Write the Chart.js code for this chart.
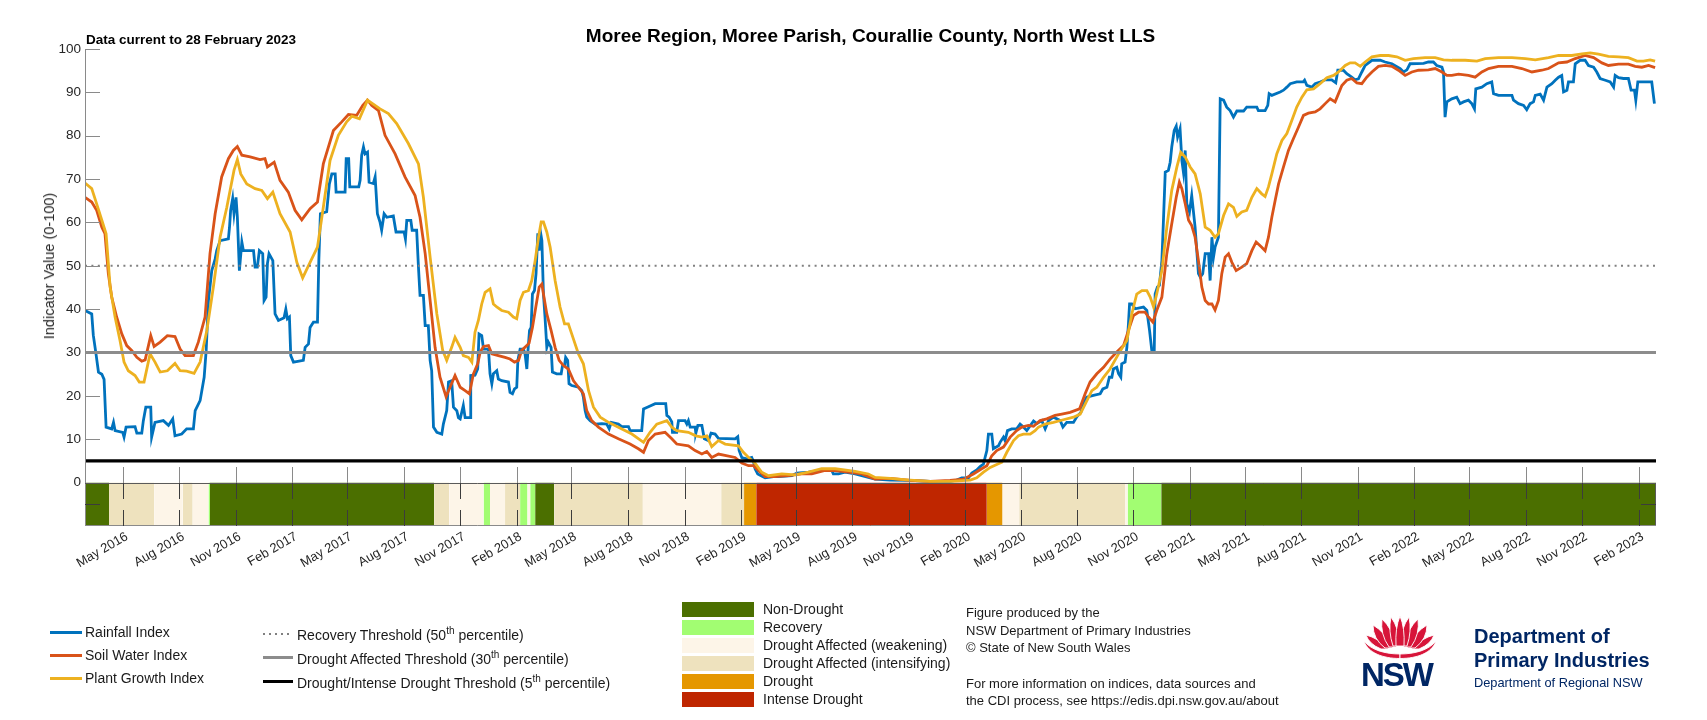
<!DOCTYPE html>
<html>
<head>
<meta charset="utf-8">
<script src="https://cdn.jsdelivr.net/npm/chart.js@4.4.1/dist/chart.umd.min.js"></script>
<style>
  html, body { margin: 0; padding: 0; background: #fff; }
  #wrap { position: relative; width: 1707px; height: 720px; overflow: hidden; background: #fff;
          font-family: 'Liberation Sans', Arial, Helvetica, sans-serif; color: #1a1a1a; }
  #c { position: absolute; left: 0; top: 0; }
  .t { position: absolute; white-space: nowrap; }
  .sw { position: absolute; }
  sup { font-size: 10px; line-height: 0; vertical-align: 0; position: relative; top: -6px; }
</style>
</head>
<body>
<div id="wrap">
  <canvas id="c" width="1707" height="720"></canvas>

  <div class="t" style="left:0;width:1741px;text-align:center;top:25px;font-size:19px;font-weight:bold;color:#000;">Moree Region, Moree Parish, Courallie County, North West LLS</div>
  <div class="t" style="left:86px;top:32px;font-size:13.5px;font-weight:bold;color:#000;">Data current to 28 February 2023</div>
  <div class="t" style="left:49px;top:266px;font-size:14.5px;color:#262626;transform:translate(-50%,-50%) rotate(-90deg);">Indicator Value (0-100)</div>

  <!-- legend group 1 -->
  <div class="sw" style="left:50px;top:631px;width:32px;height:3px;background:#0072BD;"></div>
  <div class="t" style="left:85px;top:624px;font-size:14px;">Rainfall Index</div>
  <div class="sw" style="left:50px;top:654px;width:32px;height:3px;background:#D95319;"></div>
  <div class="t" style="left:85px;top:647px;font-size:14px;">Soil Water Index</div>
  <div class="sw" style="left:50px;top:677px;width:32px;height:3px;background:#EDB120;"></div>
  <div class="t" style="left:85px;top:670px;font-size:14px;">Plant Growth Index</div>

  <!-- legend group 2 -->
  <div class="sw" style="left:263px;top:633px;width:30px;height:2px;background:repeating-linear-gradient(90deg,#808080 0 2px,transparent 2px 6px);"></div>
  <div class="t" style="left:297px;top:627px;font-size:14px;">Recovery Threshold (50<sup>th</sup> percentile)</div>
  <div class="sw" style="left:263px;top:656px;width:30px;height:3px;background:#8c8c8c;"></div>
  <div class="t" style="left:297px;top:651px;font-size:14px;">Drought Affected Threshold (30<sup>th</sup> percentile)</div>
  <div class="sw" style="left:263px;top:680px;width:30px;height:3px;background:#000;"></div>
  <div class="t" style="left:297px;top:675px;font-size:14px;">Drought/Intense Drought Threshold (5<sup>th</sup> percentile)</div>

  <!-- legend group 3 (status) -->
  <div id="statusLegend"></div>

  <!-- credits -->
  <div class="t" style="left:966px;top:605px;font-size:13px;">Figure produced by the</div>
  <div class="t" style="left:966px;top:623px;font-size:13px;">NSW Department of Primary Industries</div>
  <div class="t" style="left:966px;top:640px;font-size:13px;">© State of New South Wales</div>
  <div class="t" style="left:966px;top:676px;font-size:13px;">For more information on indices, data sources and</div>
  <div class="t" style="left:966px;top:693px;font-size:13px;">the CDI process, see https://edis.dpi.nsw.gov.au/about</div>

  <!-- NSW logo -->
  <svg style="position:absolute;left:1363px;top:616px;" width="74" height="46" viewBox="0 0 74 46">
    <g fill="#D7153A" stroke="#ffffff" stroke-width="0.9">
      <path d="M3 19 Q15 22 26 33 L18 33 Q6 28 3 19 Z"/>
      <path d="M71 19 Q59 22 48 33 L56 33 Q68 28 71 19 Z"/>
      <path d="M10 9 Q22 16 30 32 L22 32 Q10 23 10 9 Z"/>
      <path d="M64 9 Q52 16 44 32 L52 32 Q64 23 64 9 Z"/>
      <path d="M19 3 Q29 12 34 31 L26 31 Q17 18 19 3 Z"/>
      <path d="M55 3 Q45 12 40 31 L48 31 Q57 18 55 3 Z"/>
      <path d="M28 1 Q36 12 37 30 L30 30 Q25 15 28 1 Z"/>
      <path d="M46 1 Q38 12 37 30 L44 30 Q49 15 46 1 Z"/>
      <path d="M37 0 Q42 12 41 30 L33 30 Q32 12 37 0 Z"/>
      <path d="M1 25 C8 34 22 38 37 38 L37 42.5 C20 42.5 5 37 1 25 Z"/>
      <path d="M73 25 C66 34 52 38 37 38 L37 42.5 C54 42.5 69 37 73 25 Z"/>
    </g>
  </svg>
  <div class="t" style="left:1361px;top:659px;font-size:33px;font-weight:bold;color:#002664;letter-spacing:-2px;line-height:32px;">NSW</div>
  <div class="t" style="left:1474px;top:625px;font-size:20px;font-weight:bold;color:#002664;">Department of</div>
  <div class="t" style="left:1474px;top:649px;font-size:20px;font-weight:bold;color:#002664;">Primary Industries</div>
  <div class="t" style="left:1474px;top:675px;font-size:12.8px;color:#002664;">Department of Regional NSW</div>
</div>

<script>
// ---------------- DATA ----------------
// x values are decimal years (e.g. 2016.5 = start of July 2016)
const xMin = 2016.161;   // 29 Feb 2016
const xMax = 2023.162;   // 1 Mar 2023

const tickLabels = ['May 2016','Aug 2016','Nov 2016','Feb 2017','May 2017','Aug 2017','Nov 2017',
  'Feb 2018','May 2018','Aug 2018','Nov 2018','Feb 2019','May 2019','Aug 2019','Nov 2019',
  'Feb 2020','May 2020','Aug 2020','Nov 2020','Feb 2021','May 2021','Aug 2021','Nov 2021',
  'Feb 2022','May 2022','Aug 2022','Nov 2022','Feb 2023'];

const yTickValues = [0, 10, 20, 30, 40, 50, 60, 70, 80, 90, 100];

const thresholdValues = [50, 30, 5];

const rainfallIndex = [
[2016.161,39.7],[2016.191,38.9],[2016.198,34.0],[2016.210,29.7],[2016.221,25.5],[2016.236,25.0],[2016.246,23.8],[2016.255,12.8],[2016.280,12.4],[2016.288,13.9],[2016.295,12.0],[2016.329,11.6],[2016.335,10.5],[2016.344,12.8],[2016.384,12.9],[2016.392,11.4],[2016.414,11.4],[2016.421,14.3],[2016.432,17.4],[2016.454,17.4],[2016.458,10.5],[2016.473,13.9],[2016.510,14.3],[2016.533,13.2],[2016.552,14.7],[2016.562,10.8],[2016.592,11.2],[2016.614,12.4],[2016.644,12.4],[2016.652,16.6],[2016.674,18.9],[2016.692,24.3],[2016.701,30.5],[2016.711,42.0],[2016.726,48.9],[2016.741,51.6],[2016.748,53.5],[2016.763,55.8],[2016.800,56.2],[2016.805,58.9],[2016.810,62.8],[2016.819,65.5],[2016.825,62.0],[2016.834,65.8],[2016.840,61.2],[2016.849,48.9],[2016.860,55.5],[2016.867,53.5],[2016.912,53.5],[2016.919,49.7],[2016.929,49.7],[2016.938,53.5],[2016.953,52.8],[2016.959,42.0],[2016.968,42.8],[2016.974,50.5],[2016.981,52.8],[2016.998,51.2],[2017.008,38.9],[2017.023,37.4],[2017.048,38.0],[2017.056,40.0],[2017.063,37.8],[2017.072,38.2],[2017.078,29.3],[2017.090,27.8],[2017.134,28.2],[2017.142,31.2],[2017.157,32.0],[2017.164,35.8],[2017.179,37.0],[2017.197,37.0],[2017.203,51.2],[2017.210,62.0],[2017.238,62.5],[2017.250,68.9],[2017.261,71.2],[2017.276,71.2],[2017.280,67.0],[2017.320,67.0],[2017.325,74.7],[2017.336,74.7],[2017.341,68.2],[2017.381,68.2],[2017.387,69.7],[2017.394,75.5],[2017.402,77.4],[2017.409,75.8],[2017.420,76.2],[2017.427,69.3],[2017.446,69.0],[2017.454,70.5],[2017.464,62.0],[2017.476,60.0],[2017.483,58.2],[2017.494,62.0],[2017.506,61.2],[2017.535,61.5],[2017.547,57.8],[2017.583,57.8],[2017.589,56.2],[2017.595,60.5],[2017.613,60.5],[2017.619,58.2],[2017.639,58.2],[2017.647,49.7],[2017.654,43.2],[2017.669,43.2],[2017.677,36.2],[2017.691,36.2],[2017.699,28.2],[2017.706,25.8],[2017.714,12.8],[2017.729,11.6],[2017.751,11.2],[2017.758,13.5],[2017.773,16.6],[2017.781,23.2],[2017.795,23.5],[2017.803,17.4],[2017.818,16.6],[2017.825,15.0],[2017.833,14.7],[2017.847,17.8],[2017.855,15.0],[2017.877,15.0],[2017.880,24.7],[2017.899,24.8],[2017.911,26.2],[2017.917,34.3],[2017.929,33.9],[2017.937,30.8],[2017.959,30.8],[2017.966,25.1],[2017.974,22.8],[2017.981,25.1],[2017.996,25.8],[2018.003,23.9],[2018.018,23.5],[2018.048,23.2],[2018.055,20.8],[2018.066,20.5],[2018.075,21.6],[2018.085,22.0],[2018.090,28.2],[2018.100,30.8],[2018.115,30.8],[2018.122,29.7],[2018.130,26.2],[2018.134,29.7],[2018.142,35.1],[2018.149,35.8],[2018.155,43.5],[2018.164,44.3],[2018.171,48.2],[2018.179,57.5],[2018.185,53.5],[2018.192,57.4],[2018.197,55.8],[2018.204,43.5],[2018.211,38.2],[2018.219,31.2],[2018.226,32.4],[2018.238,31.2],[2018.244,25.5],[2018.263,25.1],[2018.283,25.1],[2018.289,27.0],[2018.298,27.0],[2018.303,28.9],[2018.312,28.2],[2018.318,22.8],[2018.330,22.4],[2018.360,22.0],[2018.375,21.2],[2018.382,19.7],[2018.390,16.6],[2018.397,15.1],[2018.412,14.3],[2018.434,13.5],[2018.464,13.6],[2018.486,13.5],[2018.497,12.4],[2018.506,13.9],[2018.538,13.5],[2018.553,12.9],[2018.583,12.9],[2018.590,12.0],[2018.642,12.0],[2018.650,17.0],[2018.672,17.5],[2018.702,18.2],[2018.749,18.2],[2018.754,15.5],[2018.764,15.1],[2018.776,14.0],[2018.779,11.6],[2018.798,11.6],[2018.806,14.3],[2018.835,14.3],[2018.843,13.5],[2018.850,14.3],[2018.858,12.8],[2018.880,12.8],[2018.883,11.4],[2018.892,13.2],[2018.910,13.2],[2018.921,10.1],[2018.939,9.7],[2018.951,11.4],[2018.969,11.2],[2018.984,10.2],[2019.058,10.1],[2019.070,10.6],[2019.076,7.4],[2019.088,5.8],[2019.110,5.5],[2019.132,5.8],[2019.140,4.9],[2019.147,3.2],[2019.159,2.0],[2019.174,1.6],[2019.192,1.1],[2019.229,1.4],[2019.251,1.4],[2019.311,1.6],[2019.333,2.2],[2019.385,2.4],[2019.444,2.9],[2019.489,2.8],[2019.496,2.0],[2019.519,2.0],[2019.548,2.4],[2019.593,2.0],[2019.652,1.2],[2019.682,0.8],[2019.749,0.6],[2019.838,0.5],[2019.927,0.3],[2020.016,0.3],[2020.046,0.6],[2020.068,1.1],[2020.098,1.1],[2020.113,2.2],[2020.135,2.9],[2020.150,3.7],[2020.165,4.3],[2020.172,5.8],[2020.180,7.4],[2020.187,11.2],[2020.202,11.2],[2020.209,7.8],[2020.232,8.5],[2020.239,9.3],[2020.254,10.5],[2020.261,9.7],[2020.272,12.0],[2020.291,12.4],[2020.313,12.4],[2020.328,13.5],[2020.343,12.8],[2020.358,12.0],[2020.388,14.2],[2020.403,13.6],[2020.425,14.3],[2020.440,12.4],[2020.455,14.3],[2020.477,15.1],[2020.507,14.3],[2020.519,12.8],[2020.536,13.9],[2020.566,13.9],[2020.581,15.2],[2020.599,16.2],[2020.611,18.2],[2020.625,19.7],[2020.655,20.1],[2020.685,20.5],[2020.697,21.6],[2020.715,22.0],[2020.726,24.3],[2020.737,24.3],[2020.744,26.2],[2020.759,26.6],[2020.767,25.1],[2020.777,24.3],[2020.781,27.4],[2020.796,27.8],[2020.804,31.2],[2020.811,36.6],[2020.816,41.2],[2020.826,41.2],[2020.841,40.1],[2020.878,40.5],[2020.893,39.7],[2020.905,35.1],[2020.915,30.5],[2020.926,30.5],[2020.930,43.5],[2020.940,45.1],[2020.949,45.5],[2020.960,51.2],[2020.967,60.5],[2020.975,71.6],[2020.989,72.0],[2020.997,73.9],[2021.004,77.4],[2021.015,81.2],[2021.024,82.2],[2021.030,79.7],[2021.041,81.6],[2021.049,74.3],[2021.056,71.6],[2021.064,76.6],[2021.071,64.3],[2021.083,62.4],[2021.093,66.2],[2021.108,58.9],[2021.123,48.2],[2021.131,47.4],[2021.142,48.2],[2021.153,52.8],[2021.168,52.8],[2021.175,46.6],[2021.183,56.6],[2021.190,52.0],[2021.197,54.3],[2021.212,56.6],[2021.220,88.5],[2021.235,88.2],[2021.249,86.6],[2021.264,85.8],[2021.279,84.3],[2021.294,85.7],[2021.324,85.7],[2021.338,86.6],[2021.383,86.6],[2021.390,85.8],[2021.420,85.8],[2021.432,87.0],[2021.438,89.7],[2021.450,89.3],[2021.487,90.1],[2021.502,90.5],[2021.517,91.2],[2021.532,92.0],[2021.561,92.4],[2021.590,92.4],[2021.596,92.8],[2021.606,91.6],[2021.628,91.2],[2021.643,92.0],[2021.665,92.4],[2021.688,92.9],[2021.717,92.9],[2021.735,92.2],[2021.744,95.1],[2021.769,95.1],[2021.784,94.3],[2021.806,93.5],[2021.821,92.9],[2021.836,93.1],[2021.851,94.7],[2021.866,96.2],[2021.896,97.4],[2021.933,97.4],[2021.955,97.0],[2021.985,96.6],[2022.022,95.5],[2022.037,94.7],[2022.052,95.2],[2022.066,96.6],[2022.126,96.7],[2022.148,97.0],[2022.170,97.0],[2022.185,96.2],[2022.208,95.8],[2022.215,94.7],[2022.222,84.3],[2022.230,87.8],[2022.252,88.5],[2022.274,88.9],[2022.289,87.4],[2022.304,87.8],[2022.326,88.2],[2022.341,87.4],[2022.353,86.2],[2022.359,90.8],[2022.386,91.2],[2022.408,92.0],[2022.430,92.4],[2022.438,89.7],[2022.460,89.3],[2022.520,89.3],[2022.527,88.2],[2022.549,87.4],[2022.572,87.0],[2022.586,86.0],[2022.601,87.4],[2022.616,87.8],[2022.624,89.3],[2022.646,89.6],[2022.661,88.2],[2022.676,91.2],[2022.698,92.0],[2022.713,92.8],[2022.728,93.5],[2022.742,93.9],[2022.750,90.1],[2022.765,90.5],[2022.772,92.4],[2022.794,92.4],[2022.802,96.6],[2022.824,97.4],[2022.846,97.4],[2022.861,96.2],[2022.884,95.8],[2022.898,94.7],[2022.913,93.2],[2022.936,92.8],[2022.958,92.4],[2022.973,91.2],[2022.980,93.9],[2022.995,93.4],[2023.017,93.2],[2023.039,93.2],[2023.051,90.5],[2023.066,90.5],[2023.072,88.2],[2023.081,92.4],[2023.143,92.4],[2023.155,87.4]
];

const soilWaterIndex = [
[2016.161,65.8],[2016.191,64.7],[2016.213,62.8],[2016.236,58.9],[2016.250,57.4],[2016.265,48.2],[2016.280,42.8],[2016.302,38.2],[2016.325,34.3],[2016.347,31.6],[2016.369,30.5],[2016.392,28.9],[2016.414,28.0],[2016.429,28.3],[2016.454,33.9],[2016.469,31.4],[2016.496,32.4],[2016.528,33.9],[2016.562,33.7],[2016.585,30.8],[2016.607,29.3],[2016.644,29.3],[2016.666,32.4],[2016.696,38.2],[2016.718,52.8],[2016.741,62.0],[2016.770,70.5],[2016.800,74.7],[2016.822,76.6],[2016.840,77.5],[2016.860,75.5],[2016.897,75.1],[2016.941,74.5],[2016.963,74.7],[2016.974,72.8],[2017.004,73.9],[2017.030,69.7],[2017.067,67.0],[2017.097,62.8],[2017.127,60.6],[2017.164,63.2],[2017.197,64.7],[2017.223,73.5],[2017.268,81.2],[2017.305,83.2],[2017.335,84.9],[2017.372,84.7],[2017.399,87.0],[2017.420,88.2],[2017.439,87.0],[2017.469,85.8],[2017.498,80.1],[2017.543,75.8],[2017.587,70.5],[2017.632,66.2],[2017.654,61.2],[2017.677,52.8],[2017.699,42.0],[2017.721,31.2],[2017.743,24.3],[2017.770,19.8],[2017.810,24.7],[2017.833,22.0],[2017.855,21.2],[2017.874,20.5],[2017.892,25.1],[2017.911,27.4],[2017.922,30.1],[2017.937,31.4],[2017.959,31.6],[2017.974,29.7],[2018.003,29.3],[2018.033,28.9],[2018.055,28.5],[2018.075,27.8],[2018.093,28.2],[2018.107,30.5],[2018.130,31.6],[2018.140,32.2],[2018.155,35.8],[2018.170,40.5],[2018.185,45.1],[2018.197,45.8],[2018.204,43.5],[2018.219,38.9],[2018.238,35.1],[2018.256,31.2],[2018.274,28.2],[2018.293,27.0],[2018.315,26.2],[2018.338,23.5],[2018.360,22.0],[2018.382,20.5],[2018.397,16.6],[2018.419,14.3],[2018.449,12.8],[2018.494,11.2],[2018.538,10.1],[2018.590,8.9],[2018.627,7.8],[2018.650,7.0],[2018.672,9.7],[2018.702,11.2],[2018.746,11.6],[2018.776,10.1],[2018.798,8.9],[2018.850,8.5],[2018.880,7.4],[2018.910,6.6],[2018.932,7.2],[2018.954,5.8],[2018.984,6.6],[2019.058,5.8],[2019.088,4.5],[2019.118,3.9],[2019.140,3.9],[2019.162,2.8],[2019.192,1.4],[2019.236,1.4],[2019.296,1.6],[2019.355,2.0],[2019.400,2.0],[2019.459,2.8],[2019.504,2.8],[2019.563,2.4],[2019.623,2.0],[2019.682,0.8],[2019.749,1.0],[2019.838,0.5],[2019.927,0.3],[2020.016,0.5],[2020.076,0.8],[2020.120,2.0],[2020.157,3.2],[2020.180,3.9],[2020.202,6.2],[2020.224,7.4],[2020.254,8.2],[2020.284,10.5],[2020.313,12.0],[2020.336,12.8],[2020.365,13.2],[2020.388,13.0],[2020.417,14.3],[2020.447,14.7],[2020.484,15.5],[2020.514,15.8],[2020.551,16.2],[2020.593,17.0],[2020.618,20.5],[2020.640,23.2],[2020.670,25.1],[2020.700,26.6],[2020.729,28.5],[2020.759,30.1],[2020.789,31.6],[2020.811,35.1],[2020.833,38.5],[2020.856,39.3],[2020.885,39.3],[2020.900,38.2],[2020.920,37.0],[2020.937,39.7],[2020.960,42.8],[2020.982,52.8],[2021.004,59.7],[2021.024,65.8],[2021.038,69.3],[2021.049,67.8],[2021.064,64.3],[2021.079,60.5],[2021.093,59.3],[2021.108,56.6],[2021.123,51.2],[2021.138,45.1],[2021.153,42.0],[2021.168,41.2],[2021.183,41.2],[2021.197,39.8],[2021.212,42.0],[2021.227,48.2],[2021.242,52.0],[2021.257,52.8],[2021.272,50.8],[2021.291,48.9],[2021.316,49.7],[2021.338,50.5],[2021.361,53.5],[2021.380,55.5],[2021.405,54.3],[2021.420,53.5],[2021.435,56.6],[2021.450,61.2],[2021.465,65.1],[2021.480,68.9],[2021.502,72.8],[2021.524,76.6],[2021.546,79.3],[2021.569,82.0],[2021.591,84.7],[2021.613,85.2],[2021.643,85.5],[2021.665,86.2],[2021.688,87.4],[2021.710,88.5],[2021.732,87.8],[2021.744,89.3],[2021.762,91.6],[2021.784,92.8],[2021.806,93.2],[2021.829,92.2],[2021.851,92.0],[2021.873,93.5],[2021.896,94.7],[2021.925,96.0],[2021.955,96.2],[2021.985,96.0],[2022.014,95.1],[2022.044,93.9],[2022.074,94.7],[2022.104,95.1],[2022.148,95.2],[2022.178,95.5],[2022.208,94.7],[2022.230,93.9],[2022.252,93.9],[2022.282,94.2],[2022.326,93.9],[2022.356,93.5],[2022.386,94.7],[2022.416,95.5],[2022.460,96.0],[2022.520,96.0],[2022.564,95.5],[2022.609,94.7],[2022.653,95.1],[2022.683,95.5],[2022.728,96.8],[2022.765,97.0],[2022.802,97.8],[2022.846,98.5],[2022.884,98.0],[2022.921,96.8],[2022.950,96.2],[2022.995,96.5],[2023.039,96.5],[2023.069,96.0],[2023.099,95.8],[2023.129,96.2],[2023.158,95.7]
];

const plantGrowthIndex = [
[2016.161,69.1],[2016.191,67.8],[2016.213,64.3],[2016.236,60.5],[2016.255,57.4],[2016.273,45.1],[2016.295,38.2],[2016.317,32.8],[2016.335,27.8],[2016.354,25.8],[2016.384,24.7],[2016.403,23.2],[2016.424,23.2],[2016.451,29.7],[2016.473,27.8],[2016.496,25.5],[2016.528,25.8],[2016.562,27.5],[2016.585,25.8],[2016.614,25.7],[2016.647,25.2],[2016.674,27.8],[2016.704,35.1],[2016.733,45.1],[2016.763,56.6],[2016.793,63.5],[2016.825,72.0],[2016.840,74.5],[2016.855,71.2],[2016.882,68.9],[2016.919,67.8],[2016.949,67.4],[2016.974,65.5],[2016.998,67.0],[2017.030,62.0],[2017.075,57.8],[2017.105,50.8],[2017.131,47.2],[2017.164,50.8],[2017.197,54.3],[2017.223,63.5],[2017.253,74.3],[2017.290,80.1],[2017.327,83.2],[2017.350,84.5],[2017.384,83.9],[2017.420,88.2],[2017.476,86.2],[2017.513,85.1],[2017.550,82.8],[2017.602,78.2],[2017.647,73.5],[2017.669,65.8],[2017.699,52.0],[2017.729,38.9],[2017.755,30.5],[2017.773,28.2],[2017.795,31.2],[2017.810,33.5],[2017.833,31.2],[2017.847,29.3],[2017.870,28.9],[2017.885,27.8],[2017.899,34.7],[2017.914,37.4],[2017.929,41.2],[2017.944,43.9],[2017.966,44.7],[2017.981,41.2],[2017.996,40.5],[2018.018,39.7],[2018.048,39.3],[2018.070,38.2],[2018.085,37.8],[2018.100,42.0],[2018.115,43.9],[2018.137,44.3],[2018.152,46.6],[2018.167,51.2],[2018.182,56.6],[2018.194,60.1],[2018.204,60.1],[2018.219,57.8],[2018.234,54.3],[2018.256,46.6],[2018.278,40.5],[2018.298,36.6],[2018.315,36.6],[2018.330,34.3],[2018.360,29.7],[2018.382,27.4],[2018.405,21.2],[2018.427,17.4],[2018.457,15.1],[2018.494,13.9],[2018.538,12.8],[2018.598,11.2],[2018.650,9.3],[2018.679,11.6],[2018.709,13.5],[2018.754,14.3],[2018.776,12.8],[2018.798,12.0],[2018.850,11.6],[2018.883,10.8],[2018.910,10.5],[2018.932,10.8],[2018.954,8.3],[2018.984,9.7],[2019.014,8.9],[2019.073,8.5],[2019.095,7.0],[2019.118,5.8],[2019.147,4.5],[2019.177,2.4],[2019.207,1.6],[2019.266,2.0],[2019.326,1.8],[2019.385,2.4],[2019.444,3.2],[2019.504,3.2],[2019.593,2.6],[2019.652,2.0],[2019.682,1.2],[2019.749,1.0],[2019.838,0.6],[2019.927,0.3],[2020.016,0.3],[2020.106,0.6],[2020.135,1.1],[2020.165,2.4],[2020.195,3.5],[2020.224,4.2],[2020.247,4.7],[2020.269,7.0],[2020.299,9.7],[2020.321,10.8],[2020.343,11.2],[2020.373,11.2],[2020.395,12.0],[2020.410,12.8],[2020.440,13.5],[2020.477,13.9],[2020.521,14.5],[2020.566,15.1],[2020.596,15.8],[2020.622,18.5],[2020.648,21.2],[2020.670,22.0],[2020.700,24.3],[2020.729,26.2],[2020.767,29.7],[2020.804,32.8],[2020.826,38.9],[2020.848,43.5],[2020.871,44.3],[2020.893,44.3],[2020.908,42.8],[2020.923,40.5],[2020.937,43.5],[2020.960,48.9],[2020.982,58.9],[2021.004,67.4],[2021.027,72.8],[2021.044,76.2],[2021.064,75.1],[2021.086,72.8],[2021.108,71.2],[2021.131,66.6],[2021.153,58.9],[2021.175,58.2],[2021.197,56.6],[2021.212,57.4],[2021.235,61.6],[2021.257,64.3],[2021.279,63.5],[2021.294,61.4],[2021.316,62.4],[2021.338,62.8],[2021.361,65.8],[2021.383,67.8],[2021.405,66.6],[2021.420,66.0],[2021.435,68.2],[2021.450,71.2],[2021.472,75.8],[2021.495,78.9],[2021.517,80.5],[2021.539,83.5],[2021.561,86.6],[2021.584,88.9],[2021.606,90.6],[2021.636,90.8],[2021.665,92.0],[2021.695,93.4],[2021.725,93.9],[2021.747,94.7],[2021.777,96.2],[2021.799,96.8],[2021.821,96.8],[2021.844,96.0],[2021.866,97.0],[2021.896,98.2],[2021.933,98.5],[2021.970,98.5],[2022.007,98.2],[2022.044,97.4],[2022.081,97.8],[2022.133,98.0],[2022.178,98.0],[2022.215,97.5],[2022.252,97.4],[2022.312,97.4],[2022.364,97.2],[2022.401,97.8],[2022.460,98.0],[2022.520,98.0],[2022.579,97.8],[2022.624,97.5],[2022.683,98.0],[2022.728,98.5],[2022.787,98.5],[2022.832,98.9],[2022.869,99.1],[2022.906,98.8],[2022.950,98.3],[2022.995,98.2],[2023.039,98.0],[2023.077,97.2],[2023.106,97.2],[2023.136,97.5],[2023.158,97.2]
];

// drought status categories and the timeline (start of each period, category index)
const statusNames = ['Non-Drought','Recovery','Drought Affected (weakening)','Drought Affected (intensifying)','Drought','Intense Drought'];
const statusStart = [2016.161,2016.268,2016.469,2016.597,2016.641,2016.711,2016.718,2017.717,2017.784,2017.937,2017.966,2018.033,2018.100,2018.133,2018.145,2018.167,2018.252,2018.647,2018.996,2019.098,2019.152,2020.180,2020.250,2020.324,2020.796,2020.807,2020.957];
const statusClass = [0,3,2,3,2,1,0,3,2,1,2,3,1,2,1,0,3,2,3,4,5,4,2,3,2,1,0];

// ---------------- STYLES ----------------
const statusColors = ['#4b6f00','#a2fd72','#fdf5e8','#eee2be','#e59700','#bf2600'];
const FONT = "'Liberation Sans', Arial, Helvetica, sans-serif";

// status legend (HTML)
(function(){
  const host = document.getElementById('statusLegend');
  statusNames.forEach((name, i) => {
    const top = 602 + i * 18;
    const b = document.createElement('div');
    b.className = 'sw';
    b.style.cssText = `left:682px;top:${top}px;width:72px;height:15px;background:${statusColors[i]};`;
    host.appendChild(b);
    const t = document.createElement('div');
    t.className = 't';
    t.style.cssText = `left:763px;top:${top-1}px;font-size:14px;line-height:17px;`;
    t.textContent = name;
    host.appendChild(t);
  });
})();

// ---------------- HELPERS ----------------
const MONTHS = {Jan:0,Feb:1,Mar:2,Apr:3,May:4,Jun:5,Jul:6,Aug:7,Sep:8,Oct:9,Nov:10,Dec:11};
function decimalYear(y, m) {
  const s = Date.UTC(y, 0, 1), e = Date.UTC(y + 1, 0, 1);
  return y + (Date.UTC(y, m, 1) - s) / (e - s);
}
const tickPositions = tickLabels.map(l => { const [mn, yr] = l.split(' '); return decimalYear(+yr, MONTHS[mn]); });
const toPts = arr => arr.map(([x, y]) => ({x, y}));

// ---------------- DATASETS ----------------
const datasets = [];
datasets.push({ label: 'Plant Growth Index', data: toPts(plantGrowthIndex), borderColor: '#EDB120', borderWidth: 2.8, pointRadius: 0, tension: 0, fill: false, order: 3 });
datasets.push({ label: 'Soil Water Index', data: toPts(soilWaterIndex), borderColor: '#D95319', borderWidth: 2.8, pointRadius: 0, tension: 0, fill: false, order: 4 });
datasets.push({ label: 'Rainfall Index', data: toPts(rainfallIndex), borderColor: '#0072BD', borderWidth: 2.8, pointRadius: 0, tension: 0, fill: false, order: 5 });

const thrStyle = [
  { borderColor: '#808080', borderWidth: 2, borderDash: [2, 4.4] },
  { borderColor: '#8c8c8c', borderWidth: 3 },
  { borderColor: '#000000', borderWidth: 3.2 }
];
thresholdValues.forEach((v, i) => {
  datasets.push(Object.assign({ label: 'thr' + v, data: [{x: xMin, y: v}, {x: xMax, y: v}], pointRadius: 0, fill: false, order: 1 + (i === 0 ? 1 : 0) }, thrStyle[i]));
});

statusStart.forEach((s, i) => {
  const e = i + 1 < statusStart.length ? statusStart[i + 1] : xMax;
  datasets.push({ label: statusNames[statusClass[i]], data: [{x: s, y: 0}, {x: e, y: 0}], borderWidth: 0, borderColor: 'rgba(0,0,0,0)', pointRadius: 0,
    backgroundColor: statusColors[statusClass[i]], fill: {value: -10}, order: 20 });
});

// ---------------- FRAME / TICK MARKS ----------------
const framePlugin = {
  id: 'frame',
  afterDatasetsDraw(chart) {
    const {ctx, scales: {x, y}} = chart;
    const L = Math.round(x.getPixelForValue(xMin)), R = Math.round(x.getPixelForValue(xMax));
    const Y0 = Math.round(y.getPixelForValue(0)), YB = Math.round(y.getPixelForValue(-10)), YM = Math.round(y.getPixelForValue(-5)), YT = Math.round(y.getPixelForValue(100));
    const seg = (x1, y1, x2, y2) => { ctx.beginPath(); ctx.moveTo(x1, y1); ctx.lineTo(x2, y2); ctx.stroke(); };
    ctx.save();
    ctx.lineWidth = 1;
    // y axis
    ctx.strokeStyle = '#8a8a8a';
    seg(L + 0.5, YT, L + 0.5, YB);
    yTickValues.forEach(v => { const py = Math.round(y.getPixelForValue(v)) + 0.5; seg(L, py, L + 15, py); });
    // month ticks above the status bar
    tickPositions.forEach(p => { const px = Math.round(x.getPixelForValue(p)) + 0.5; seg(px, Y0 - 16, px, Y0); });
    // status bar frame
    ctx.strokeStyle = '#5a5a5a';
    seg(L, Y0 + 0.5, R, Y0 + 0.5);
    seg(R - 0.5, Y0, R - 0.5, YB);
    ctx.strokeStyle = '#8a8a8a';
    seg(L, YB - 0.5, R, YB - 0.5);
    // ticks inside status bar
    ctx.strokeStyle = '#3c3c3c';
    tickPositions.forEach(p => { const px = Math.round(x.getPixelForValue(p)) + 0.5; seg(px, Y0, px, Y0 + 16); seg(px, YB - 16, px, YB); });
    seg(L, YM + 0.5, L + 15, YM + 0.5);
    seg(R - 15, YM + 0.5, R, YM + 0.5);
    ctx.restore();
  }
};

// ---------------- CHART ----------------
new Chart(document.getElementById('c'), {
  type: 'line',
  data: { datasets },
  options: {
    responsive: false, animation: false, devicePixelRatio: 1,
    events: [],
    layout: { padding: { top: 49, right: 51, bottom: 0, left: 0 } },
    plugins: { legend: { display: false }, tooltip: { enabled: false }, title: { display: false } },
    scales: {
      x: {
        type: 'linear', min: xMin, max: xMax,
        grid: { display: false, drawTicks: false }, border: { display: false },
        afterBuildTicks: s => { s.ticks = tickPositions.map(v => ({ value: v })); },
        afterFit: s => { s.height = 194; },
        ticks: { autoSkip: false, minRotation: 30, maxRotation: 30, padding: 3, labelOffset: 4, color: '#262626',
          font: { family: FONT, size: 13 }, callback: (v, i) => tickLabels[i] }
      },
      y: {
        type: 'linear', min: -10, max: 100,
        grid: { display: false, drawTicks: false }, border: { display: false },
        afterBuildTicks: s => { s.ticks = yTickValues.map(v => ({ value: v })); },
        afterFit: s => { s.width = 85; },
        ticks: { padding: 4, color: '#262626', font: { family: FONT, size: 13.5 }, callback: v => String(v) }
      }
    }
  },
  plugins: [framePlugin]
});
</script>
</body>
</html>
